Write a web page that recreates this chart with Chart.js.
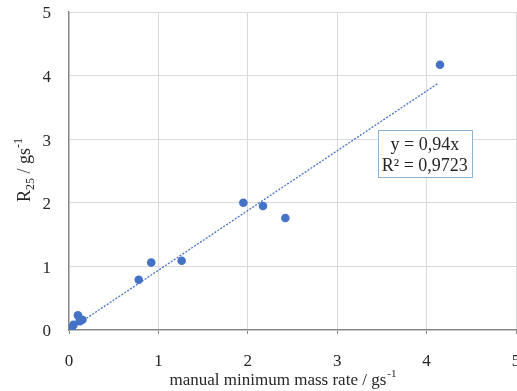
<!DOCTYPE html>
<html>
<head>
<meta charset="utf-8">
<script src="https://cdn.jsdelivr.net/npm/chart.js@4.4.1/dist/chart.umd.min.js"></script>
<style>
  html, body { margin: 0; padding: 0; background: #fff; }
  #wrap { width: 517px; height: 391px; }
</style>
</head>
<body>
<div id="wrap"><canvas id="chart"></canvas></div>
<script>
// measured points (manual minimum mass rate vs R25)
const manualRate = [0.03, 0.05, 0.10, 0.12, 0.15, 0.78, 0.92, 1.26, 1.95, 2.17, 2.42, 4.15];
const r25 = [0.03, 0.08, 0.23, 0.14, 0.16, 0.79, 1.06, 1.09, 2.00, 1.95, 1.76, 4.17];
// linear trend through origin, endpoints
const trendX = [0, 4.13];
const trendY = [0, 3.88];
const tickValues = [0, 1, 2, 3, 4, 5];
const eqLines = ['y = 0,94x', 'R² = 0,9723'];

const blue = '#4472c4';
const textColor = '#262626';
const serif = "'Liberation Serif', 'Times New Roman', serif";

// draws axis titles with sub/superscripts and the equation box
const labelsPlugin = {
  id: 'labels',
  afterDraw(chart) {
    const ctx = chart.ctx;
    const area = chart.chartArea;
    ctx.save();
    ctx.fillStyle = textColor;
    ctx.textBaseline = 'alphabetic';

    // x title: manual minimum mass rate / gs-1
    const main = 'manual minimum mass rate / gs';
    const sup = '-1';
    ctx.font = '17px ' + serif;
    const wMain = ctx.measureText(main).width;
    ctx.font = '11px ' + serif;
    const wSup = ctx.measureText(sup).width;
    let x0 = (area.left + area.right) / 2 - (wMain + wSup) / 2 - 10;
    const yb = 385;
    ctx.font = '17px ' + serif;
    ctx.textAlign = 'left';
    ctx.fillText(main, x0, yb);
    ctx.font = '11px ' + serif;
    ctx.fillText(sup, x0 + wMain + 1, yb - 8);

    // y title: R25 / gs-1 (rotated)
    ctx.save();
    ctx.translate(30, (area.top + area.bottom) / 2 - 1);
    ctx.rotate(-Math.PI / 2);
    const parts = [
      { t: 'R', f: 18, dy: 0 },
      { t: '25', f: 12, dy: 4 },
      { t: ' / gs', f: 18, dy: 0 },
      { t: '-1', f: 12, dy: -8 }
    ];
    let total = 0;
    parts.forEach(p => { ctx.font = p.f + 'px ' + serif; p.w = ctx.measureText(p.t).width; total += p.w; });
    let px = -total / 2;
    parts.forEach(p => {
      ctx.font = p.f + 'px ' + serif;
      ctx.fillText(p.t, px, p.dy);
      px += p.w;
    });
    ctx.restore();

    // equation box, anchored in data coordinates
    const sx = chart.scales.x, sy = chart.scales.y;
    const cx = sx.getPixelForValue(3.98);
    const cy = sy.getPixelForValue(2.78);
    const bw = 94, bh = 47;
    ctx.fillStyle = '#fff';
    ctx.fillRect(cx - bw / 2, cy - bh / 2, bw, bh);
    ctx.strokeStyle = '#8db3d0';
    ctx.lineWidth = 1;
    ctx.strokeRect(Math.round(cx - bw / 2) + 0.5, Math.round(cy - bh / 2) + 0.5, bw, bh);
    ctx.fillStyle = textColor;
    ctx.font = '18px ' + serif;
    ctx.textAlign = 'center';
    ctx.fillText(eqLines[0], cx, cy - 3);
    ctx.fillText(eqLines[1], cx, cy + 18);
    ctx.restore();
  }
};

new Chart(document.getElementById('chart'), {
  type: 'scatter',
  data: {
    datasets: [
      {
        label: 'trend',
        type: 'line',
        data: trendX.map((x, i) => ({ x: x, y: trendY[i] })),
        borderColor: blue,
        borderWidth: 1.3,
        borderDash: [2, 1.5],
        pointRadius: 0,
        fill: false
      },
      {
        label: 'R25',
        data: manualRate.map((x, i) => ({ x: x, y: r25[i] })),
        backgroundColor: blue,
        borderColor: blue,
        pointRadius: 4.3,
        pointBorderWidth: 0
      }
    ]
  },
  options: {
    responsive: true,
    maintainAspectRatio: false,
    animation: false,
    layout: { autoPadding: false, padding: { left: 43, top: 12, right: 1, bottom: 19 } },
    plugins: {
      legend: { display: false },
      tooltip: { enabled: false }
    },
    scales: {
      x: {
        type: 'linear',
        min: 0,
        max: 5,
        afterBuildTicks: axis => { axis.ticks = tickValues.map(v => ({ value: v })); },
        afterFit: axis => {
          axis.height = 42;
          axis.paddingLeft = 0; axis.paddingRight = 0;
          axis.paddingTop = 0; axis.paddingBottom = 0;
        },
        grid: { color: '#d9d9d9', drawTicks: true, tickLength: 4, tickColor: '#868686' },
        border: { color: '#868686', width: 1.3 },
        ticks: { color: textColor, font: { family: serif, size: 17 }, padding: 17, maxRotation: 0 }
      },
      y: {
        type: 'linear',
        min: 0,
        max: 5,
        afterBuildTicks: axis => { axis.ticks = tickValues.map(v => ({ value: v })); },
        afterFit: axis => {
          axis.width = 26;
          axis.paddingLeft = 0; axis.paddingRight = 0;
          axis.paddingTop = 0; axis.paddingBottom = 0;
        },
        grid: { color: '#d9d9d9', drawTicks: false },
        border: { color: '#868686', width: 1.3 },
        ticks: { color: textColor, font: { family: serif, size: 17 }, padding: 18, labelOffset: 2 }
      }
    }
  },
  plugins: [labelsPlugin]
});
</script>
</body>
</html>
